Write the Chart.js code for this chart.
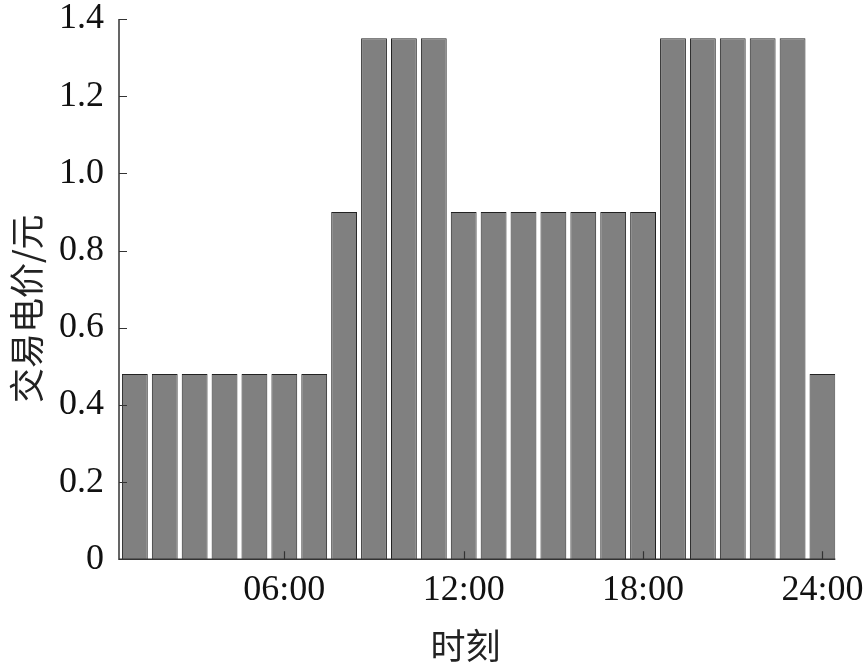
<!DOCTYPE html>
<html>
<head>
<meta charset="utf-8">
<script src="https://cdn.jsdelivr.net/npm/chart.js@4"></script>
<style>
  html, body { margin: 0; padding: 0; background: #fff; }
  #wrap { width: 866px; height: 666px; }
</style>
</head>
<body>
<div id="wrap"><canvas id="myChart" width="866" height="666"></canvas></div>
<script>
// hours 1..24 and the price for each hour
const hours = [1,2,3,4,5,6,7,8,9,10,11,12,13,14,15,16,17,18,19,20,21,22,23,24]
const price = [0.48,0.48,0.48,0.48,0.48,0.48,0.48,0.9,1.35,1.35,1.35,0.9,0.9,0.9,0.9,0.9,0.9,0.9,1.35,1.35,1.35,1.35,1.35,0.48]
const xTicks = [6, 12, 18, 24]
const xTickLabels = ['06:00', '12:00', '18:00', '24:00']
const yLabel = '交易电价/元'
const xLabel = '时刻'

const axisColor = '#333'
const serif = "'Liberation Serif', 'Times New Roman', serif"
const cjk = "'Noto Sans CJK SC', sans-serif"

// ticks pointing inward, drawn from the scales
const innerTicks = {
    id: 'innerTicks',
    afterDraw(chart) {
        const ctx = chart.ctx
        const x = chart.scales.x, y = chart.scales.y
        ctx.save()
        ctx.strokeStyle = axisColor
        ctx.lineWidth = 1.5
        ctx.beginPath()
        ctx.moveTo(x.left, y.top)
        ctx.lineTo(x.left, y.bottom)
        ctx.lineTo(x.right, y.bottom)
        ctx.stroke()
        ctx.lineWidth = 1.2
        ctx.beginPath()
        y.ticks.forEach(t => {
            if (t.value === 0) return
            const py = Math.round(y.getPixelForValue(t.value)) + 0.5
            ctx.moveTo(x.left, py)
            ctx.lineTo(x.left + 8, py)
        })
        xTicks.forEach(v => {
            const px = Math.round(x.getPixelForValue(v)) + 0.5
            ctx.moveTo(px, y.bottom)
            ctx.lineTo(px, y.bottom - 8)
        })
        ctx.stroke()
        ctx.restore()
    }
}

const ctx = document.getElementById('myChart').getContext('2d')
const chart = new Chart(ctx, {
    type: 'bar',
    data: {
        datasets: [{
            data: hours.map((h, i) => ({ x: h, y: price[i] })),
            backgroundColor: '#808080',
            borderColor: '#222',
            borderWidth: 1,
            barPercentage: 0.96,
            categoryPercentage: 0.9
        }]
    },
    options: {
        responsive: false,
        animation: false,
        layout: { padding: { top: 19, right: 30, left: 0, bottom: 1 } },
        plugins: { legend: { display: false }, tooltip: { enabled: false } },
        scales: {
            x: {
                type: 'linear',
                offset: false,
                min: 0.47,
                max: 24.43,
                afterBuildTicks: s => { s.ticks = xTicks.map(v => ({ value: v })) },
                grid: { display: false },
                border: { display: false },
                ticks: {
                    color: '#111',
                    font: { family: serif, size: 36 },
                    padding: 2,
                    maxRotation: 0,
                    callback: v => xTickLabels[xTicks.indexOf(v)]
                },
                title: {
                    display: true,
                    text: xLabel + '   ',   // trailing spaces nudge it left like the original
                    color: '#222',
                    font: { family: cjk, size: 35, lineHeight: 1.1 },
                    padding: { top: 12, bottom: 0 }
                }
            },
            y: {
                min: 0,
                max: 1.4,
                afterFit: s => { s.paddingTop = 0 },
                ticks: {
                    stepSize: 0.2,
                    color: '#111',
                    font: { family: serif, size: 36 },
                    padding: 15,
                    callback: v => v === 0 ? '0' : v.toFixed(1)
                },
                grid: { display: false, drawTicks: false },
                border: { display: false },
                title: {
                    display: true,
                    text: yLabel + '     ',
                    color: '#222',
                    font: { family: cjk, size: 35, lineHeight: 1 },
                    padding: { top: 9, bottom: 0 }
                }
            }
        }
    },
    plugins: [innerTicks]
})
</script>
</body>
</html>
